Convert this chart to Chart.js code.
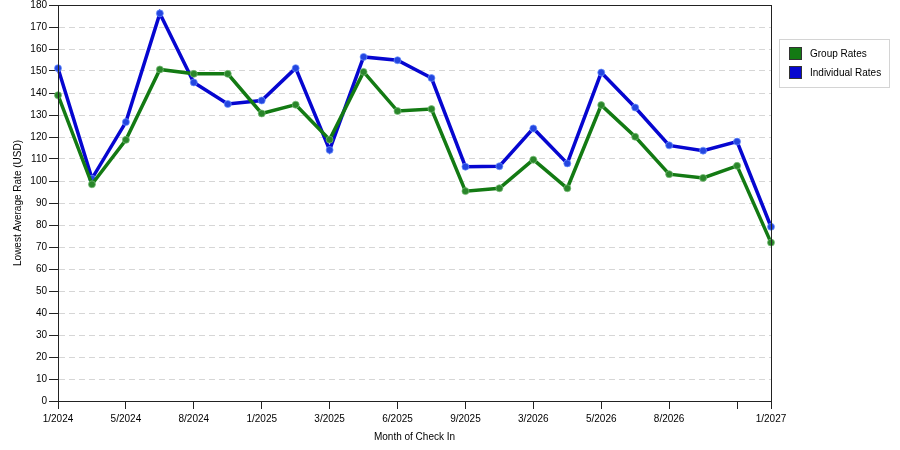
<!DOCTYPE html>
<html>
<head>
<meta charset="utf-8">
<script src="https://cdn.jsdelivr.net/npm/chart.js@4"></script>
<style>
  html, body { margin:0; padding:0; background:#fff; }
  #wrap { width:900px; height:450px; }
</style>
</head>
<body>
<div id="wrap"><canvas id="chart" width="900" height="450"></canvas></div>
<script>
// --- data ---
const months = ['1/2024','','5/2024','','8/2024','','1/2025','','3/2025','','6/2025','',
                '9/2025','','3/2026','','5/2026','','8/2026','',' ','1/2027'];
const groupRates = [139, 98.5, 118.7, 150.7, 148.7, 148.7, 130.7, 134.7, 118.8, 149.6, 131.8, 132.7,
                    95.4, 96.7, 109.7, 96.7, 134.5, 120.1, 103.1, 101.4, 106.9, 72.0];
const individualRates = [151.3, 101.1, 126.8, 176.2, 144.8, 135.0, 136.6, 151.3, 114.1, 156.4, 154.9, 146.8,
                         106.5, 106.7, 123.9, 108.0, 149.3, 133.4, 116.2, 113.8, 117.9, 79.2];

const GREEN = '#137a13', BLUE = '#0606d0';
const FONT = { family: 'Liberation Sans, Arial, sans-serif', size: 10 };

// --- plugins ---
const frame = {
  id: 'frame',
  afterDatasetsDraw(c) {
    const a = c.chartArea, ctx = c.ctx;
    ctx.save();
    ctx.strokeStyle = '#222';
    ctx.lineWidth = 1;
    ctx.strokeRect(Math.round(a.left) + 0.5, Math.round(a.top) + 0.5,
                   Math.round(a.right - a.left), Math.round(a.bottom - a.top));
    ctx.restore();
  }
};

const boxLegend = {
  id: 'boxLegend',
  afterDraw(c) {
    const ctx = c.ctx, x = c.chartArea.right + 8, y = 39;
    ctx.save();
    ctx.strokeStyle = '#d4d4d4';
    ctx.lineWidth = 1;
    ctx.strokeRect(x + 0.5, y + 0.5, 110, 48);
    ctx.font = FONT.size + 'px ' + FONT.family;
    ctx.textBaseline = 'middle';
    c.data.datasets.forEach((ds, i) => {
      const yy = y + 8 + i * 19;
      ctx.fillStyle = ds.borderColor;
      ctx.fillRect(x + 10, yy, 13, 13);
      ctx.strokeStyle = '#333';
      ctx.strokeRect(x + 10.5, yy + 0.5, 12, 12);
      ctx.fillStyle = '#000';
      ctx.fillText(ds.label, x + 31, yy + 7);
    });
    ctx.restore();
  }
};

// --- chart ---
const ctx = document.getElementById('chart').getContext('2d');
new Chart(ctx, {
  type: 'line',
  data: {
    labels: months,
    datasets: [
      { label: 'Group Rates', data: groupRates, borderColor: GREEN, borderWidth: 3.5,
        pointRadius: 3.5, pointBackgroundColor: '#2a862a', pointBorderColor: 'rgba(120,190,120,0.7)',
        pointBorderWidth: 1, tension: 0 },
      { label: 'Individual Rates', data: individualRates, borderColor: BLUE, borderWidth: 3.5,
        pointRadius: 3.5, pointBackgroundColor: '#2446e0', pointBorderColor: 'rgba(110,150,255,0.7)',
        pointBorderWidth: 1, tension: 0 }
    ]
  },
  options: {
    responsive: false,
    animation: false,
    layout: { padding: { left: 0, right: 129, top: 0, bottom: 0 } },
    plugins: { legend: { display: false }, tooltip: { enabled: false } },
    scales: {
      x: {
        offset: false,
        afterFit: s => { s.height = 49; },
        grid: {
          drawOnChartArea: false, drawTicks: true, tickLength: 8,
          tickColor: c => (months[c.index] === '' ? 'rgba(0,0,0,0)' : '#222')
        },
        border: { color: '#222' },
        ticks: { autoSkip: false, maxRotation: 0, color: '#000', font: FONT, padding: 4 },
        title: { display: true, text: 'Month of Check In', color: '#000', font: FONT,
                 padding: { top: 0, bottom: 7 } }
      },
      y: {
        min: 0, max: 180,
        afterFit: s => { s.width = 58; s.paddingTop = 4; },
        grid: { color: '#d6d6d6', tickColor: '#222', tickLength: 9 },
        border: { color: '#222', dash: [6, 4] },
        ticks: { stepSize: 10, color: '#000', font: FONT, padding: 2 },
        title: { display: true, text: 'Lowest Average Rate (USD)', color: '#000', font: FONT,
                 padding: { top: 12, bottom: 0 } }
      }
    }
  },
  plugins: [frame, boxLegend]
});
</script>
</body>
</html>
